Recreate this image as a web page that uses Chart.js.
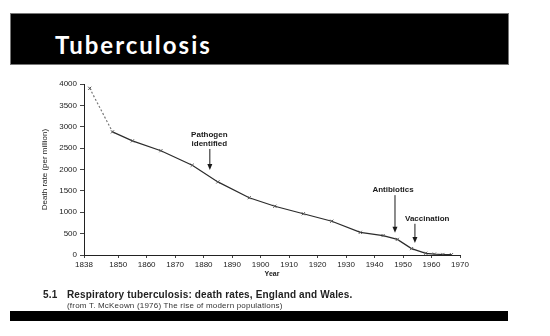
<!DOCTYPE html>
<html lang="en">
<head>
    <meta charset="UTF-8">
    <title>Tuberculosis</title>
    <style>
        body {
            margin: 0;
            width: 550px;
            height: 336px;
            background: #fff;
            position: relative;
            overflow: hidden;
            font-family: "Liberation Sans", Arial, sans-serif;
        }

        #tbChart {
            position: absolute;
            left: 0;
            top: 0;
        }

        .title-bar {
            position: absolute;
            left: 10px;
            top: 13px;
            width: 497px;
            height: 50px;
            background: #000;
            border: 1px solid #777;
        }

        .title-bar span {
            position: absolute;
            left: 44px;
            top: 16px;
            color: #fff;
            font-family: Lato, "DejaVu Sans", sans-serif;
            font-weight: bold;
            font-size: 24px;
            letter-spacing: 2px;
        }

        .bottom-bar {
            position: absolute;
            left: 10px;
            top: 311px;
            width: 498px;
            height: 10px;
            background: #000;
        }

        .caption {
            position: absolute;
            left: 43px;
            top: 289px;
            font-size: 10px;
            font-weight: bold;
            letter-spacing: 0.15px;
            color: #222;
            white-space: nowrap;
        }

        .caption .num {
            display: inline-block;
            width: 24px;
        }

        .source {
            position: absolute;
            left: 67px;
            top: 301px;
            font-size: 8px;
            letter-spacing: 0.2px;
            color: #333;
            white-space: nowrap;
        }
    </style>
</head>
<body>

    <canvas id="tbChart" width="550" height="336"></canvas>

    <div class="title-bar"><span>Tuberculosis</span></div>
    <div class="caption"><span class="num">5.1</span>Respiratory tuberculosis: death rates, England and Wales.</div>
    <div class="source">(from T. McKeown (1976) The rise of modern populations)</div>
    <div class="bottom-bar"></div>

    <script src="https://cdn.jsdelivr.net/npm/chart.js"></script>
    <script>
        // death rate per million
        const years = [1840, 1848, 1855, 1865, 1876, 1885, 1896, 1905, 1915, 1925, 1935, 1943, 1948, 1953, 1958, 1961, 1964, 1967];
        const rates = [3900, 2880, 2670, 2440, 2100, 1710, 1340, 1140, 965, 790, 530, 455, 365, 150, 40, 20, 12, 8];

        const xTicks = [1838, 1850, 1860, 1870, 1880, 1890, 1900, 1910, 1920, 1930, 1940, 1950, 1960, 1970];
        const yTicks = [0, 500, 1000, 1500, 2000, 2500, 3000, 3500, 4000];

        // annotations: label lines, arrow year, arrow start/end (death rate), label centre year
        const noteLabels = [['Pathogen', 'identified'], ['Antibiotics'], ['Vaccination']];
        const noteYears = [1882, 1947, 1954];
        const noteFrom = [2480, 1400, 730];
        const noteTo = [1990, 520, 280];
        const noteTextYears = [1882, 1946.5, 1958.5];

        const notesPlugin = {
            id: 'notes',
            afterDatasetsDraw(chart) {
                const c = chart.ctx;
                const xs = chart.scales.x;
                const ys = chart.scales.y;
                c.save();
                c.fillStyle = '#1a1a1a';
                c.strokeStyle = '#1a1a1a';
                c.lineWidth = 1;
                c.font = 'bold 8px "Liberation Sans", Arial, sans-serif';
                c.textAlign = 'center';
                c.textBaseline = 'bottom';
                noteLabels.forEach((lines, i) => {
                    const ax = xs.getPixelForValue(noteYears[i]);
                    const y0 = ys.getPixelForValue(noteFrom[i]);
                    const y1 = ys.getPixelForValue(noteTo[i]);
                    const tx = xs.getPixelForValue(noteTextYears[i]);
                    for (let k = 0; k < lines.length; k++) {
                        c.fillText(lines[lines.length - 1 - k], tx, y0 - 1 - k * 9.5);
                    }
                    c.beginPath();
                    c.moveTo(ax + 0.5, y0);
                    c.lineTo(ax + 0.5, y1 - 5);
                    c.stroke();
                    c.beginPath();
                    c.moveTo(ax - 2, y1 - 6);
                    c.lineTo(ax + 3, y1 - 6);
                    c.lineTo(ax + 0.5, y1);
                    c.closePath();
                    c.fill();
                });
                c.restore();
            }
        };

        const ctx = document.getElementById('tbChart').getContext('2d');
        const tbChart = new Chart(ctx, {
            type: 'line',
            data: {
                datasets: [{
                    data: years.map((y, i) => ({ x: y, y: rates[i] })),
                    borderColor: '#2b2b2b',
                    borderWidth: 1.2,
                    pointStyle: 'crossRot',
                    pointRadius: 2.2,
                    pointBorderColor: '#555',
                    pointBorderWidth: 1,
                    tension: 0,
                    segment: {
                        // first gap is drawn dashed
                        borderDash: c => c.p0DataIndex === 0 ? [2, 2] : undefined,
                        borderColor: c => c.p0DataIndex === 0 ? '#777' : undefined
                    }
                }]
            },
            options: {
                responsive: false,
                animation: false,
                devicePixelRatio: 1,
                layout: {
                    padding: { left: 36, top: 84, right: 90, bottom: 58 }
                },
                plugins: {
                    legend: { display: false },
                    tooltip: { enabled: false }
                },
                scales: {
                    x: {
                        type: 'linear',
                        min: 1838,
                        max: 1970,
                        afterBuildTicks: s => { s.ticks = xTicks.map(v => ({ value: v })); },
                        afterFit: s => { s.height = 23; },
                        border: { display: true, color: '#222', width: 1 },
                        grid: { drawOnChartArea: false, tickLength: 3, color: '#444' },
                        ticks: {
                            padding: 2,
                            maxRotation: 0,
                            color: '#222',
                            font: { size: 8, family: '"Liberation Sans", Arial, sans-serif' },
                            callback: v => String(v)
                        },
                        title: {
                            display: true,
                            text: 'Year',
                            color: '#222',
                            padding: 0,
                            font: { size: 7, weight: 'bold', family: '"Liberation Sans", Arial, sans-serif' }
                        }
                    },
                    y: {
                        min: 0,
                        max: 4000,
                        afterBuildTicks: s => { s.ticks = yTicks.map(v => ({ value: v })); },
                        afterFit: s => { s.width = 48; },
                        border: { display: true, color: '#222', width: 1 },
                        grid: { drawOnChartArea: false, tickLength: 4, color: '#444' },
                        ticks: {
                            padding: 3,
                            color: '#222',
                            font: { size: 8, family: '"Liberation Sans", Arial, sans-serif' },
                            callback: v => String(v)
                        },
                        title: {
                            display: true,
                            text: 'Death rate (per million)',
                            color: '#222',
                            padding: { top: 4, bottom: 0 },
                            font: { size: 8, family: '"Liberation Sans", Arial, sans-serif' }
                        }
                    }
                }
            },
            plugins: [notesPlugin]
        });
    </script>
</body>
</html>
